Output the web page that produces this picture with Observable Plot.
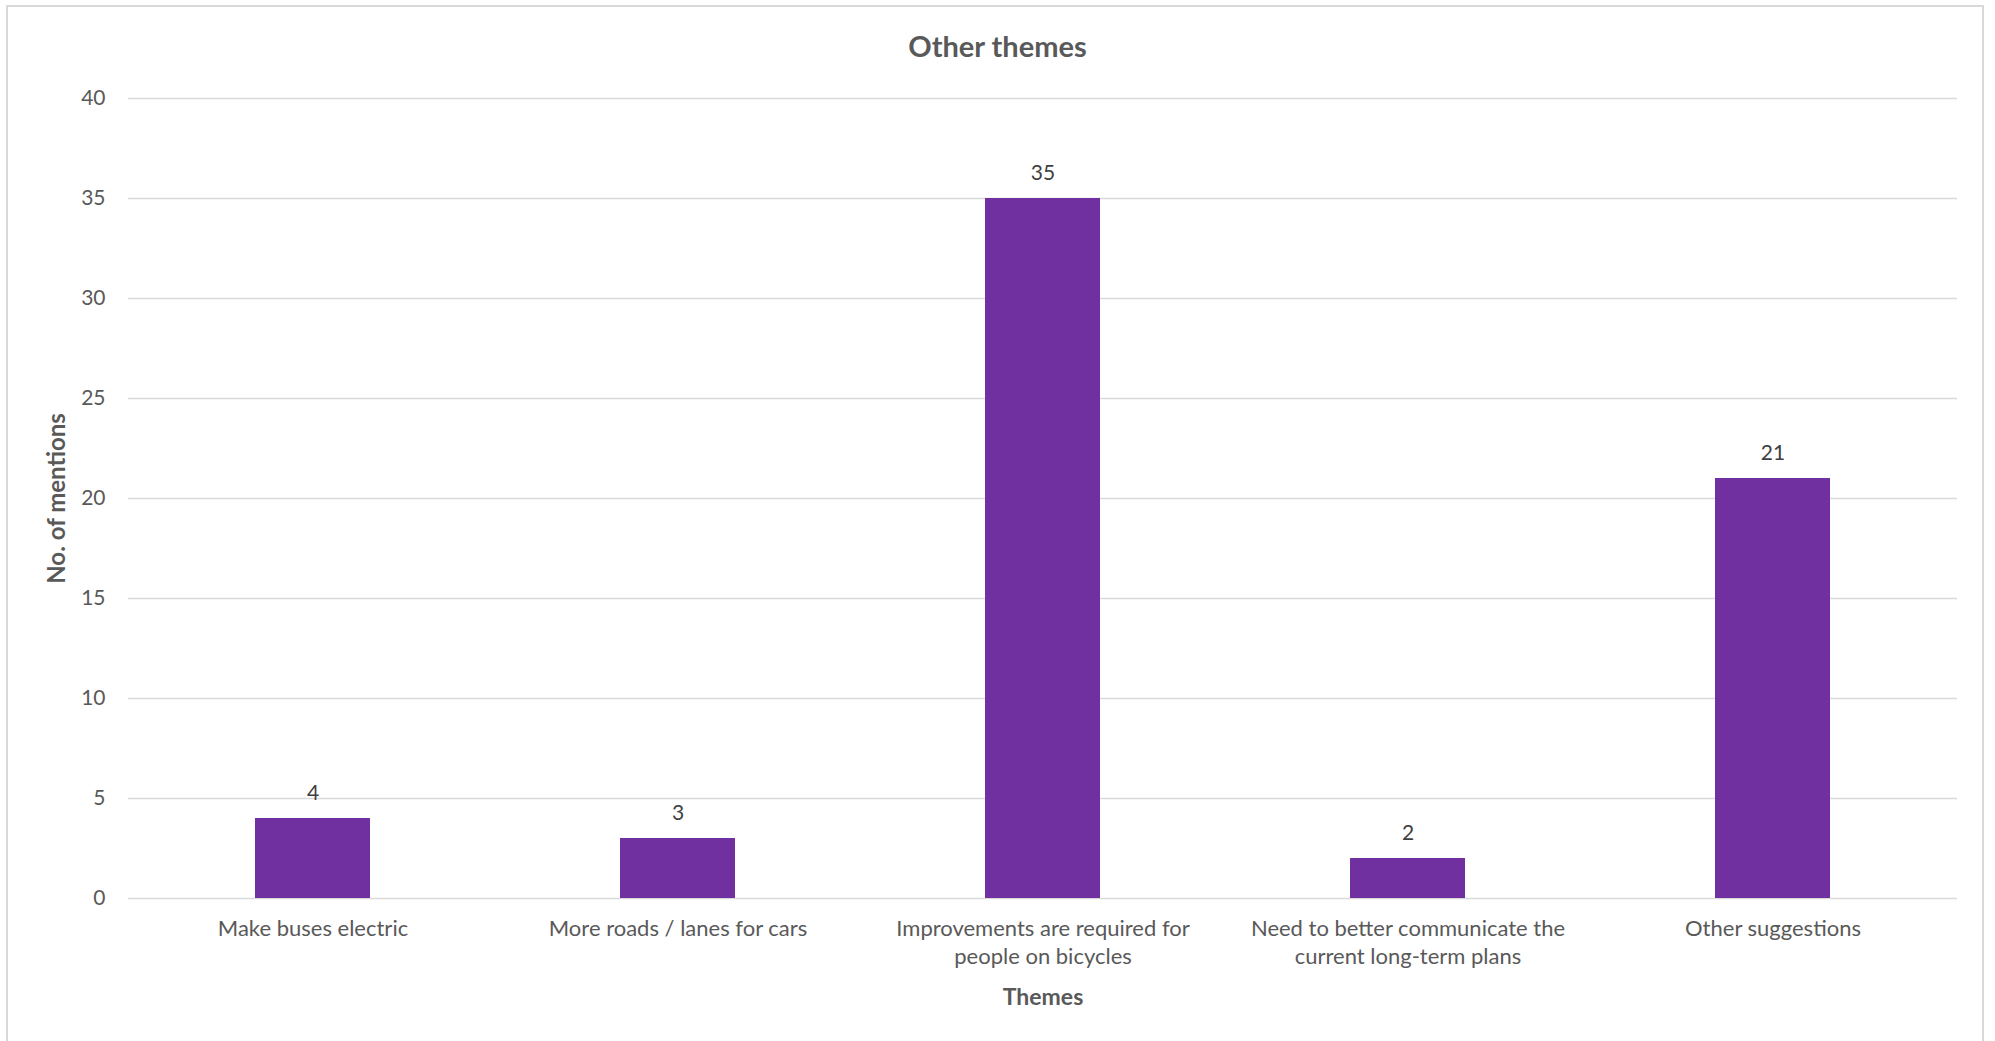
<!DOCTYPE html>
<html>
<head>
<meta charset="utf-8">
<script src="https://cdn.jsdelivr.net/npm/d3@7"></script>
<script src="https://cdn.jsdelivr.net/npm/@observablehq/plot@0.6"></script>
<style>
  html, body { margin: 0; padding: 0; background: #fff; overflow: hidden; width: 1995px; height: 1041px; }
  #frame { position: absolute; left: 6px; top: 5px; width: 1978px; height: 1100px; border: 2px solid #d9d9d9; box-sizing: border-box; }
  #title { position: absolute; left: 0; top: 27px; width: 1995px; text-align: center; font-family: Lato, "Open Sans", sans-serif; font-weight: bold; font-size: 29px; color: #595959; line-height: 38px; }
  #chart { position: absolute; left: 0; top: 70px; }
</style>
</head>
<body>
<div id="frame"></div>
<div id="title">Other themes</div>
<div id="chart"></div>
<script>
const categories = [
  "Make buses electric",
  "More roads / lanes for cars",
  "Improvements are required for\npeople on bicycles",
  "Need to better communicate the\ncurrent long-term plans",
  "Other suggestions"
];
const mentions = [4, 3, 35, 2, 21];
const yTicks = [0, 5, 10, 15, 20, 25, 30, 35, 40];
const xTitle = "Themes";
const yTitle = "No. of mentions";

const data = categories.map((c, i) => ({category: c, value: mentions[i]}));
const font = "Lato, 'Open Sans', sans-serif";
const textColor = "#595959";

const chart = Plot.plot({
  width: 1995,
  height: 971,
  marginTop: 28,
  marginBottom: 143,
  marginLeft: 128,
  marginRight: 38,
  style: {fontFamily: font, color: textColor, background: "transparent"},
  x: {domain: categories, paddingInner: 0.686, paddingOuter: 0.343, axis: null},
  y: {domain: [0, 40], axis: null},
  marks: [
    Plot.gridY(yTicks, {stroke: "#d9d9d9", strokeOpacity: 1, strokeWidth: 1.5}),
    Plot.axisY(yTicks, {tickSize: 0, tickPadding: 23, fontSize: 21, fill: textColor, label: null}),
    Plot.barY(data, {x: "category", y: "value", fill: "#7030A0"}),
    Plot.text(data, {x: "category", y: "value", text: d => String(d.value), dy: -25, fontSize: 21, fill: "#404040"}),
    Plot.text(data, {x: "category", y: () => 0, text: "category", lineAnchor: "top", dy: 17, fontSize: 22, lineHeight: 1.3, fill: textColor}),
    Plot.text([xTitle], {frameAnchor: "bottom", dy: 106, fontSize: 23, fontWeight: "bold", fill: textColor}),
    Plot.text([yTitle], {frameAnchor: "left", textAnchor: "middle", rotate: -90, dx: -71, fontSize: 24, fontWeight: "bold", fill: textColor})
  ]
});
document.getElementById("chart").appendChild(chart);
</script>
</body>
</html>
